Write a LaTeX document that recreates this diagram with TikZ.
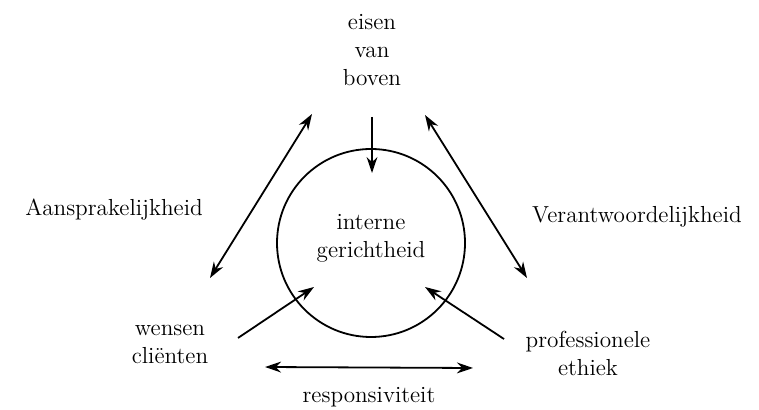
\documentclass[tikz,border=0pt]{standalone}
\usetikzlibrary{arrows.meta, positioning}

\begin{document}
\begin{tikzpicture}[
                x=0.5pt, y=-0.5pt,
                every node/.style={align=center, font=\fontsize{11.6}{14}\selectfont},
                arrow/.style={-{Stealth[length=8pt, width=5.4pt]}, line width=0.9pt},
                twoway/.style={{Stealth[length=8pt, width=5.4pt]}-{Stealth[length=8pt, width=5.4pt]}, line width=0.9pt}
            ]
                \useasboundingbox (0,0) rectangle (759,410);
                \draw[line width=0.9pt] (371,243) circle[radius=94];
                \node (intern) at (371,238) {interne\\gerichtheid};
                \node (boven)  at (372,50)  {eisen\\van\\boven};
                \node (aanspr) at (114,210) {Aansprakelijkheid};
                \node (verant) at (637,217) {Verantwoordelijkheid};
                \node (wensen) at (170,344) {wensen\\cli\"enten};
                \node (ethiek) at (588,353) {professionele\\ethiek};
                \node (respon) at (369,397) {responsiviteit};
                % eindpunten van de pijlen
                \coordinate (bovenvoet) at (372,117);
                \coordinate (bovenpunt) at (372,173);
                \coordinate (linksboven) at (312,114);
                \coordinate (linksonder) at (210,278);
                \coordinate (rechtsboven) at (425,115);
                \coordinate (rechtsonder) at (527,278);
                \coordinate (wensenvoet) at (238,338);
                \coordinate (wensenpunt) at (314,287);
                \coordinate (ethiekvoet) at (504,339);
                \coordinate (ethiekpunt) at (425,287);
                \coordinate (responlinks) at (265,367);
                \coordinate (responrechts) at (473,368);
                \draw[arrow]  (bovenvoet) -- (bovenpunt);
                \draw[twoway] (linksboven) -- (linksonder);
                \draw[twoway] (rechtsboven) -- (rechtsonder);
                \draw[arrow]  (wensenvoet) -- (wensenpunt);
                \draw[arrow]  (ethiekvoet) -- (ethiekpunt);
                \draw[twoway] (responlinks) -- (responrechts);
            \end{tikzpicture}
\end{document}
